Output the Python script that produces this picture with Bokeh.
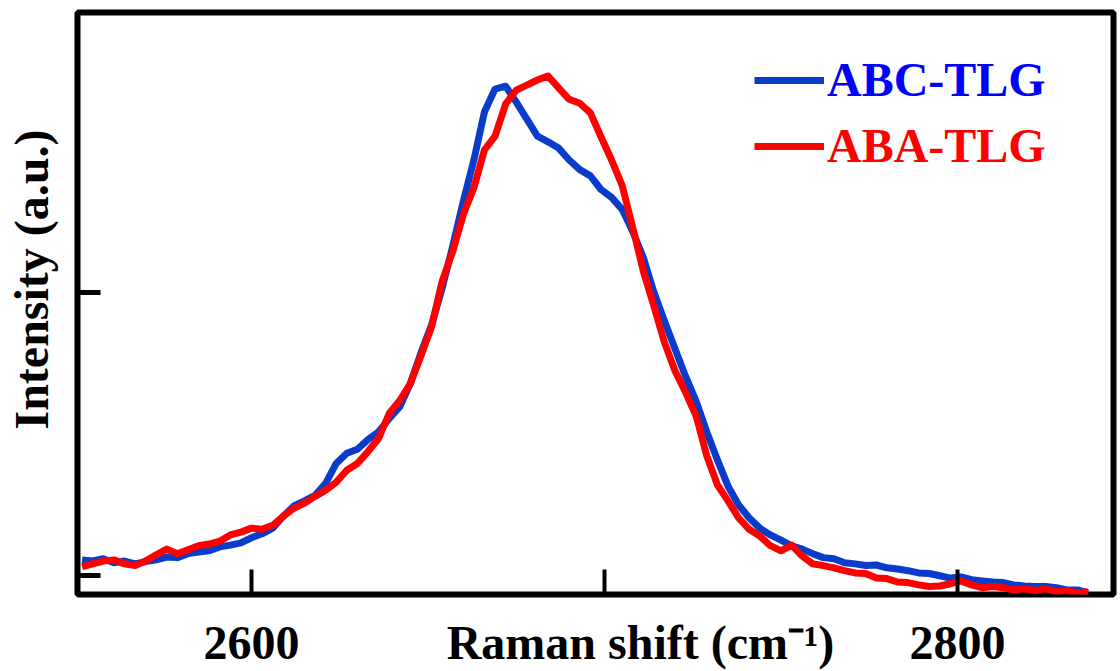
from bokeh.plotting import figure
from bokeh.models import Range1d, FixedTicker, Legend, LegendItem, ColumnDataSource
from bokeh.embed import file_html
from bokeh.resources import INLINE

# Raman shift (cm^-1)
shift = [2552, 2555, 2558, 2561, 2564, 2567, 2570, 2573, 2576, 2579, 2582, 2585,
         2588, 2591, 2594, 2597, 2600, 2603, 2606, 2609, 2612, 2615, 2618, 2621,
         2624, 2627, 2630, 2633, 2636, 2639, 2642, 2645, 2648, 2651, 2654, 2657,
         2660, 2663, 2666, 2669, 2672, 2675, 2678, 2681, 2684, 2687, 2690, 2693,
         2696, 2699, 2702, 2705, 2708, 2711, 2714, 2717, 2720, 2723, 2726, 2729,
         2732, 2735, 2738, 2741, 2744, 2747, 2750, 2753, 2756, 2759, 2762, 2765,
         2768, 2771, 2774, 2777, 2780, 2783, 2786, 2789, 2792, 2795, 2798, 2801,
         2804, 2807, 2810, 2813, 2816, 2819, 2822, 2825, 2828, 2831, 2834, 2837]

abc_tlg = [0.028, 0.026, 0.030, 0.023, 0.026, 0.021, 0.025, 0.028, 0.033, 0.032, 0.039, 0.042,
           0.044, 0.051, 0.054, 0.058, 0.067, 0.074, 0.084, 0.105, 0.123, 0.132, 0.142, 0.163,
           0.198, 0.216, 0.223, 0.240, 0.254, 0.277, 0.298, 0.339, 0.393, 0.442, 0.507, 0.581,
           0.660, 0.733, 0.818, 0.858, 0.863, 0.835, 0.805, 0.775, 0.765, 0.754, 0.733, 0.716,
           0.705, 0.681, 0.667, 0.646, 0.607, 0.561, 0.500, 0.449, 0.400, 0.351, 0.307, 0.253,
           0.204, 0.158, 0.125, 0.102, 0.084, 0.072, 0.063, 0.053, 0.047, 0.039, 0.032, 0.030,
           0.023, 0.021, 0.018, 0.019, 0.014, 0.012, 0.009, 0.005, 0.004, 0.000, -0.004, -0.002,
           -0.007, -0.009, -0.011, -0.012, -0.016, -0.018, -0.019, -0.019, -0.021, -0.025, -0.025, -0.030]

aba_tlg = [0.016, 0.021, 0.026, 0.028, 0.021, 0.018, 0.026, 0.037, 0.047, 0.039, 0.046, 0.053,
           0.056, 0.061, 0.072, 0.077, 0.084, 0.082, 0.089, 0.105, 0.119, 0.128, 0.140, 0.151,
           0.165, 0.186, 0.198, 0.219, 0.242, 0.286, 0.309, 0.339, 0.388, 0.439, 0.519, 0.572,
           0.637, 0.684, 0.751, 0.775, 0.832, 0.856, 0.865, 0.874, 0.881, 0.860, 0.840, 0.833,
           0.816, 0.774, 0.733, 0.688, 0.614, 0.537, 0.475, 0.411, 0.361, 0.323, 0.281, 0.211,
           0.160, 0.132, 0.102, 0.082, 0.070, 0.053, 0.044, 0.054, 0.035, 0.021, 0.018, 0.014,
           0.009, 0.005, 0.004, -0.004, -0.005, -0.011, -0.012, -0.016, -0.019, -0.018, -0.014, -0.009,
           -0.016, -0.021, -0.019, -0.021, -0.025, -0.023, -0.026, -0.023, -0.028, -0.026, -0.030, -0.028]

NB = "\u00a0"
x_ticks = [2600, 2700, 2800]
x_tick_labels = {2600: "2600", 2700: NB * 6 + "Raman shift (cm\u207b\u00b9)", 2800: "2800"}
y_ticks = [0.0, 0.5]
y_title = NB * 4 + "Intensity (a.u.)"

BLUE_LINE = "#0a3ccc"
RED_LINE = "#ff0000"
FONT = "Liberation Serif"

p = figure(width=1120, height=671, output_backend="svg", toolbar_location=None,
           x_range=Range1d(2550.7, 2844.2), y_range=Range1d(-0.033, 0.993),
           min_border_left=77, min_border_right=7, min_border_top=12, min_border_bottom=74)
p.background_fill_color = "white"
p.border_fill_color = "white"
p.grid.visible = False
p.outline_line_color = "black"
p.outline_line_width = 6

src = ColumnDataSource(dict(x=shift, abc=abc_tlg, aba=aba_tlg))
r_abc = p.line("x", "abc", source=src, line_color=BLUE_LINE, line_width=7, line_join="round")
r_aba = p.line("x", "aba", source=src, line_color=RED_LINE, line_width=7, line_join="round")

# x axis
xa = p.xaxis[0]
xa.ticker = FixedTicker(ticks=x_ticks)
xa.major_label_overrides = x_tick_labels
xa.minor_tick_line_color = None
xa.major_tick_in = 25
xa.major_tick_out = 0
xa.major_tick_line_width = 4
xa.major_tick_line_color = "black"
xa.axis_line_color = None
xa.major_label_text_font = FONT
xa.major_label_text_font_style = "bold"
xa.major_label_text_font_size = "48px"
xa.major_label_text_color = "black"
xa.major_label_standoff = 21

# y axis
ya = p.yaxis[0]
ya.ticker = FixedTicker(ticks=y_ticks)
ya.minor_tick_line_color = None
ya.major_tick_in = 23
ya.major_tick_out = 0
ya.major_tick_line_width = 5
ya.major_tick_line_color = "black"
ya.axis_line_color = None
ya.major_label_text_font_size = "0px"
ya.major_label_text_color = None
ya.major_label_standoff = 0
ya.axis_label = y_title
ya.axis_label_text_font = FONT
ya.axis_label_text_font_style = "bold"
ya.axis_label_text_font_size = "48px"
ya.axis_label_text_color = "black"
ya.axis_label_standoff = 20

# legends (one per series so the label colours can differ)
def make_legend(label, renderer, color, loc):
    return Legend(items=[LegendItem(label=label, renderers=[renderer])], location=loc,
                  label_text_color=color, label_text_font=FONT, label_text_font_style="bold",
                  label_text_font_size="48px", glyph_width=70, glyph_height=20,
                  label_standoff=3, padding=0, margin=0, spacing=0,
                  border_line_color=None, background_fill_alpha=0)

p.add_layout(make_legend("ABC-TLG", r_abc, "#0000ff", (677, 487)))
p.add_layout(make_legend("ABA-TLG", r_aba, "#ff0000", (677, 421)))

open("out.html", "w").write(file_html(p, INLINE))
